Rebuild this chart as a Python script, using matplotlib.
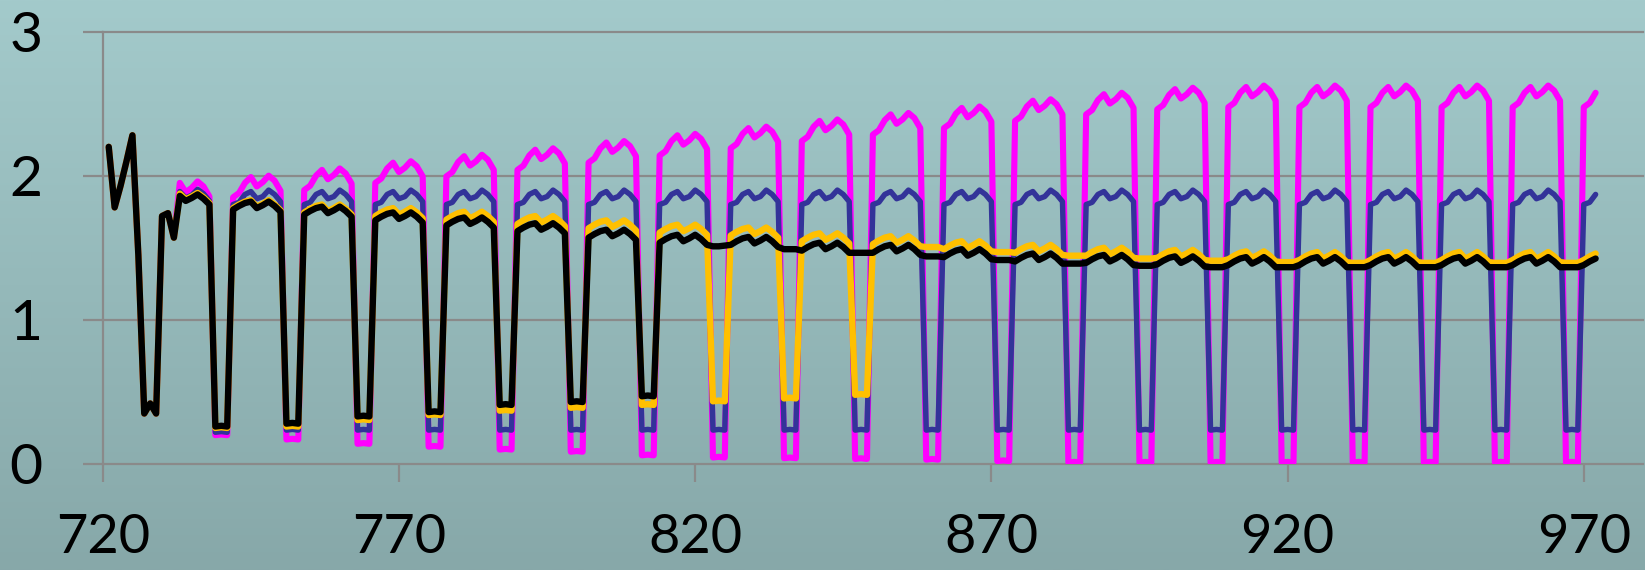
import numpy as np
import matplotlib
matplotlib.use("Agg")
import matplotlib.pyplot as plt
from matplotlib.colors import LinearSegmentedColormap

plt.rcParams['font.family'] = ['Lato', 'DejaVu Sans']

X_START = 721
XTICKS = [720, 770, 820, 870, 920, 970]
YTICKS = [0, 1, 2, 3]

MAGENTA = [
    2.20, 1.78, 1.93, 2.10, 2.28, 1.45, 0.35, 0.42, 0.35, 1.72, 1.74, 1.57,
    1.95, 1.885, 1.915, 1.96, 1.925, 1.855,
    0.20, 0.205, 0.20, 1.85, 1.88, 1.95, 1.99, 1.925, 1.955, 2.00, 1.965, 1.895,
    0.17, 0.175, 0.17, 1.90, 1.93, 2.00, 2.04, 1.975, 2.005, 2.05, 2.015, 1.945,
    0.14, 0.145, 0.14, 1.95, 1.98, 2.05, 2.09, 2.025, 2.055, 2.10, 2.065, 1.995,
    0.12, 0.125, 0.12, 1.995, 2.025, 2.095, 2.135, 2.07, 2.10, 2.145, 2.11, 2.04,
    0.10, 0.105, 0.10, 2.04, 2.07, 2.14, 2.18, 2.115, 2.145, 2.19, 2.155, 2.085,
    0.085, 0.09, 0.085, 2.09, 2.12, 2.19, 2.23, 2.165, 2.195, 2.24, 2.205, 2.135,
    0.06, 0.065, 0.06, 2.14, 2.17, 2.24, 2.28, 2.215, 2.245, 2.29, 2.255, 2.185,
    0.045, 0.05, 0.045, 2.19, 2.22, 2.29, 2.33, 2.265, 2.295, 2.34, 2.305, 2.235,
    0.04, 0.045, 0.04, 2.24, 2.27, 2.34, 2.38, 2.315, 2.345, 2.39, 2.355, 2.285,
    0.035, 0.04, 0.035, 2.285, 2.315, 2.385, 2.425, 2.36, 2.39, 2.435, 2.40, 2.33,
    0.03, 0.035, 0.03, 2.33, 2.36, 2.43, 2.47, 2.405, 2.435, 2.48, 2.445, 2.375,
    0.02, 0.025, 0.02, 2.38, 2.41, 2.48, 2.52, 2.455, 2.485, 2.53, 2.495, 2.425,
    0.01, 0.015, 0.01, 2.425, 2.455, 2.525, 2.565, 2.50, 2.53, 2.575, 2.54, 2.47,
    0.01, 0.015, 0.01, 2.46, 2.49, 2.56, 2.60, 2.535, 2.565, 2.61, 2.575, 2.505,
    0.01, 0.015, 0.01, 2.475, 2.505, 2.575, 2.615, 2.55, 2.58, 2.625, 2.59, 2.52,
    0.01, 0.015, 0.01, 2.475, 2.505, 2.575, 2.615, 2.55, 2.58, 2.625, 2.59, 2.52,
    0.01, 0.015, 0.01, 2.475, 2.505, 2.575, 2.615, 2.55, 2.58, 2.625, 2.59, 2.52,
    0.01, 0.015, 0.01, 2.475, 2.505, 2.575, 2.615, 2.55, 2.58, 2.625, 2.59, 2.52,
    0.01, 0.015, 0.01, 2.475, 2.505, 2.575, 2.615, 2.55, 2.58, 2.625, 2.59, 2.52,
    0.01, 0.015, 0.01, 2.475, 2.505, 2.575,
]

NAVY = [
    2.20, 1.78, 1.93, 2.10, 2.28, 1.45, 0.35, 0.42, 0.35, 1.72, 1.74, 1.57,
    1.89, 1.845, 1.865, 1.905, 1.875, 1.825,
    0.22, 0.225, 0.22, 1.80, 1.815, 1.87, 1.89, 1.84, 1.855, 1.90, 1.87, 1.82,   # 739
    0.235, 0.24, 0.235, 1.80, 1.815, 1.87, 1.89, 1.84, 1.855, 1.90, 1.87, 1.82,  # 751
    0.235, 0.24, 0.235, 1.80, 1.815, 1.87, 1.89, 1.84, 1.855, 1.90, 1.87, 1.82,  # 763
    0.235, 0.24, 0.235, 1.80, 1.815, 1.87, 1.89, 1.84, 1.855, 1.90, 1.87, 1.82,  # 775
    0.235, 0.24, 0.235, 1.80, 1.815, 1.87, 1.89, 1.84, 1.855, 1.90, 1.87, 1.82,  # 787
    0.235, 0.24, 0.235, 1.80, 1.815, 1.87, 1.89, 1.84, 1.855, 1.90, 1.87, 1.82,  # 799
    0.235, 0.24, 0.235, 1.80, 1.815, 1.87, 1.89, 1.84, 1.855, 1.90, 1.87, 1.82,  # 811
    0.235, 0.24, 0.235, 1.80, 1.815, 1.87, 1.89, 1.84, 1.855, 1.90, 1.87, 1.82,  # 823
    0.235, 0.24, 0.235, 1.80, 1.815, 1.87, 1.89, 1.84, 1.855, 1.90, 1.87, 1.82,  # 835
    0.235, 0.24, 0.235, 1.80, 1.815, 1.87, 1.89, 1.84, 1.855, 1.90, 1.87, 1.82,  # 847
    0.235, 0.24, 0.235, 1.80, 1.815, 1.87, 1.89, 1.84, 1.855, 1.90, 1.87, 1.82,  # 859
    0.235, 0.24, 0.235, 1.80, 1.815, 1.87, 1.89, 1.84, 1.855, 1.90, 1.87, 1.82,  # 871
    0.235, 0.24, 0.235, 1.80, 1.815, 1.87, 1.89, 1.84, 1.855, 1.90, 1.87, 1.82,  # 883
    0.235, 0.24, 0.235, 1.80, 1.815, 1.87, 1.89, 1.84, 1.855, 1.90, 1.87, 1.82,  # 895
    0.235, 0.24, 0.235, 1.80, 1.815, 1.87, 1.89, 1.84, 1.855, 1.90, 1.87, 1.82,  # 907
    0.235, 0.24, 0.235, 1.80, 1.815, 1.87, 1.89, 1.84, 1.855, 1.90, 1.87, 1.82,  # 919
    0.235, 0.24, 0.235, 1.80, 1.815, 1.87, 1.89, 1.84, 1.855, 1.90, 1.87, 1.82,  # 931
    0.235, 0.24, 0.235, 1.80, 1.815, 1.87, 1.89, 1.84, 1.855, 1.90, 1.87, 1.82,  # 943
    0.235, 0.24, 0.235, 1.80, 1.815, 1.87, 1.89, 1.84, 1.855, 1.90, 1.87, 1.82,  # 955
    0.235, 0.24, 0.235, 1.80, 1.815, 1.87,                                       # 967
]

ORANGE = [
    2.20, 1.78, 1.93, 2.10, 2.28, 1.45, 0.35, 0.42, 0.35, 1.72, 1.74, 1.57,
    1.875, 1.835, 1.855, 1.88, 1.85, 1.81,
    0.25, 0.255, 0.25, 1.775, 1.80, 1.82, 1.83, 1.785, 1.805, 1.83, 1.80, 1.76,
    0.26, 0.265, 0.26, 1.745, 1.77, 1.79, 1.80, 1.755, 1.775, 1.80, 1.77, 1.73,
    0.305, 0.31, 0.305, 1.72, 1.745, 1.765, 1.775, 1.73, 1.75, 1.775, 1.745, 1.705,
    0.34, 0.345, 0.34, 1.695, 1.72, 1.74, 1.75, 1.705, 1.725, 1.75, 1.72, 1.68,
    0.37, 0.375, 0.37, 1.665, 1.69, 1.71, 1.72, 1.675, 1.695, 1.72, 1.69, 1.65,
    0.39, 0.395, 0.39, 1.635, 1.66, 1.68, 1.69, 1.645, 1.665, 1.69, 1.66, 1.62,
    0.41, 0.415, 0.41, 1.605, 1.63, 1.65, 1.66, 1.615, 1.635, 1.66, 1.63, 1.59,
    0.435, 0.44, 0.435, 1.585, 1.61, 1.63, 1.64, 1.595, 1.615, 1.64, 1.61, 1.57,
    0.455, 0.46, 0.455, 1.545, 1.57, 1.59, 1.60, 1.555, 1.575, 1.60, 1.57, 1.53,
    0.48, 0.485, 0.48, 1.525, 1.55, 1.57, 1.58, 1.535, 1.555, 1.58, 1.55, 1.51,
    1.505, 1.505, 1.505, 1.49, 1.515, 1.535, 1.545, 1.50, 1.52, 1.545, 1.515, 1.475,
    1.47, 1.47, 1.47, 1.465, 1.49, 1.51, 1.52, 1.475, 1.495, 1.52, 1.49, 1.45,
    1.445, 1.445, 1.445, 1.445, 1.47, 1.49, 1.50, 1.455, 1.475, 1.50, 1.47, 1.43,
    1.425, 1.425, 1.425, 1.43, 1.455, 1.475, 1.485, 1.44, 1.46, 1.485, 1.455, 1.415,
    1.41, 1.41, 1.41, 1.42, 1.445, 1.465, 1.475, 1.43, 1.45, 1.475, 1.445, 1.405,
    1.40, 1.40, 1.40, 1.415, 1.44, 1.46, 1.47, 1.425, 1.445, 1.47, 1.44, 1.40,
    1.395, 1.395, 1.395, 1.415, 1.44, 1.46, 1.47, 1.425, 1.445, 1.47, 1.44, 1.40,
    1.395, 1.395, 1.395, 1.415, 1.44, 1.46, 1.47, 1.425, 1.445, 1.47, 1.44, 1.40,
    1.395, 1.395, 1.395, 1.415, 1.44, 1.46, 1.47, 1.425, 1.445, 1.47, 1.44, 1.40,
    1.395, 1.395, 1.395, 1.415, 1.44, 1.46,
]

BLACK = [
    2.20, 1.78, 1.93, 2.10, 2.28, 1.45, 0.35, 0.42, 0.35, 1.72, 1.74, 1.57,
    1.86, 1.825, 1.845, 1.87, 1.84, 1.80,
    0.26, 0.265, 0.26, 1.765, 1.79, 1.81, 1.82, 1.775, 1.795, 1.82, 1.79, 1.75,
    0.28, 0.285, 0.28, 1.73, 1.755, 1.775, 1.785, 1.74, 1.76, 1.785, 1.755, 1.715,
    0.33, 0.335, 0.33, 1.69, 1.715, 1.735, 1.745, 1.70, 1.72, 1.745, 1.715, 1.675,
    0.36, 0.365, 0.36, 1.655, 1.68, 1.70, 1.71, 1.665, 1.685, 1.71, 1.68, 1.64,
    0.41, 0.415, 0.41, 1.615, 1.64, 1.66, 1.67, 1.625, 1.645, 1.67, 1.64, 1.60,
    0.43, 0.435, 0.43, 1.57, 1.595, 1.615, 1.625, 1.58, 1.60, 1.625, 1.595, 1.555,
    0.47, 0.475, 0.47, 1.535, 1.56, 1.58, 1.59, 1.545, 1.565, 1.59, 1.56, 1.52,
    1.51, 1.51, 1.515, 1.52, 1.545, 1.565, 1.575, 1.53, 1.55, 1.575, 1.545, 1.505,
    1.49, 1.49, 1.49, 1.48, 1.505, 1.525, 1.535, 1.49, 1.51, 1.535, 1.505, 1.465,
    1.465, 1.465, 1.465, 1.465, 1.49, 1.51, 1.52, 1.475, 1.495, 1.52, 1.49, 1.45,
    1.44, 1.44, 1.44, 1.435, 1.46, 1.48, 1.49, 1.445, 1.465, 1.49, 1.46, 1.42,
    1.415, 1.415, 1.415, 1.405, 1.43, 1.45, 1.46, 1.415, 1.435, 1.46, 1.43, 1.39,
    1.39, 1.39, 1.39, 1.395, 1.42, 1.44, 1.45, 1.405, 1.425, 1.45, 1.42, 1.38,
    1.375, 1.375, 1.375, 1.385, 1.41, 1.43, 1.44, 1.395, 1.415, 1.44, 1.41, 1.37,
    1.365, 1.365, 1.365, 1.38, 1.405, 1.425, 1.435, 1.39, 1.41, 1.435, 1.405, 1.365,
    1.365, 1.365, 1.365, 1.38, 1.405, 1.425, 1.435, 1.39, 1.41, 1.435, 1.405, 1.365,
    1.365, 1.365, 1.365, 1.38, 1.405, 1.425, 1.435, 1.39, 1.41, 1.435, 1.405, 1.365,
    1.365, 1.365, 1.365, 1.38, 1.405, 1.425, 1.435, 1.39, 1.41, 1.435, 1.405, 1.365,
    1.365, 1.365, 1.365, 1.38, 1.405, 1.425, 1.435, 1.39, 1.41, 1.435, 1.405, 1.365,
    1.365, 1.365, 1.365, 1.38, 1.405, 1.425,
]

GRID = '#8a8a8a'
W, H = 1645, 570

fig = plt.figure(figsize=(W / 100, H / 100), dpi=100)

# gradient background over the whole figure
bg = fig.add_axes([0, 0, 1, 1], zorder=-10)
cmap = LinearSegmentedColormap.from_list('bg', ['#A3CACB', '#87A8A9'])
bg.imshow(np.linspace(0, 1, 256).reshape(-1, 1), aspect='auto', cmap=cmap,
          extent=[0, 1, 0, 1], origin='upper')
bg.axis('off')

left, right, top, bottom = 102.8, 1643, 31.5, 464
ax = fig.add_axes([left / W, (H - bottom) / H, (right - left) / W, (bottom - top) / H])
ax.patch.set_alpha(0)
ax.set_xlim(720, 980)
ax.set_ylim(0, 3)

for yv in YTICKS:
    ax.axhline(yv, color=GRID, lw=1.6, zorder=1, clip_on=False)

for s in ['top', 'right', 'bottom']:
    ax.spines[s].set_visible(False)
ax.spines['left'].set_color(GRID)
ax.spines['left'].set_linewidth(1.6)

series = [(MAGENTA, '#FF00FF', 4.4), (NAVY, '#333399', 3.9),
          (ORANGE, '#FFC000', 4.6), (BLACK, '#000000', 4.6)]
for i, (vals, col, lw) in enumerate(series):
    xs = np.arange(X_START, X_START + len(vals))
    ax.plot(xs, vals, color=col, lw=lw, zorder=3 + i,
            solid_joinstyle='round', solid_capstyle='round')

ax.set_xticks(XTICKS)
ax.set_yticks(YTICKS)
ax.set_xticklabels([str(v) for v in XTICKS])
ax.set_yticklabels([str(v) for v in YTICKS])
ax.tick_params(axis='y', length=14.5, width=1.6, color=GRID, pad=29,
               labelsize=41, labelcolor='black')
ax.tick_params(axis='x', length=13, width=1.6, color=GRID, pad=22,
               labelsize=39, labelcolor='black')

fig.savefig('out.png', dpi=100)
